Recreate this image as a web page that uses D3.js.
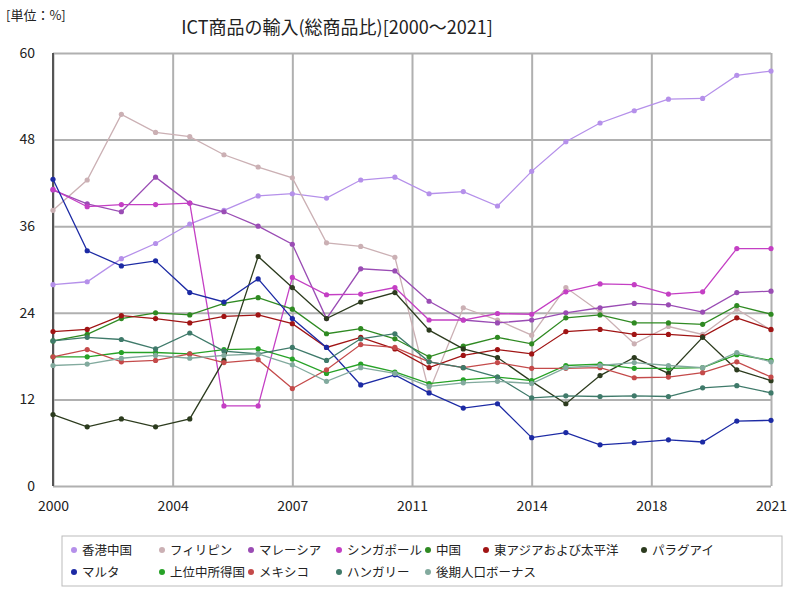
<!DOCTYPE html>
<html><head><meta charset="utf-8">
<script src="https://cdn.jsdelivr.net/npm/d3@7"></script>
<style>body{margin:0;background:#fff}text{font-family:"Noto Sans CJK JP",sans-serif}</style>
</head><body><svg id="c" width="800" height="600"></svg>
<script>
const years = d3.range(2000, 2022);
const tickPos = [0, 3.5, 7, 10.5, 14, 17.5, 21];
const tickLabels = ["2000","2004","2007","2011","2014","2018","2021"];
const yTicks = [0,12,24,36,48,60];
const names = ["香港中国","フィリピン","マレーシア","シンガポール","中国","東アジアおよび太平洋","パラグアイ","マルタ","上位中所得国","メキシコ","ハンガリー","後期人口ボーナス"];
const colors = ["#b590ea","#cbb0b4","#9a4cb4","#c43fc4","#2f8a22","#a01414","#2c3b1e","#1c2aa4","#27a227","#c44a4a","#3f7a6a","#82aa9e"];
const hk = [27.9,28.3,31.5,33.6,36.3,38.2,40.2,40.5,39.9,42.4,42.8,40.5,40.8,38.8,43.6,47.7,50.3,52.0,53.6,53.7,56.9,57.5];
const ph = [38.2,42.4,51.5,49.0,48.4,45.9,44.2,42.7,33.7,33.2,31.7,13.1,24.7,23.0,20.9,27.5,24.1,19.7,22.1,21.0,24.5,21.6];
const my = [41.0,39.1,38.0,42.8,39.2,38.0,36.0,33.5,23.2,30.1,29.8,25.6,23.0,22.6,23.0,24.0,24.7,25.3,25.1,24.1,26.8,27.0];
const sg = [41.1,38.7,39.0,39.0,39.2,11.1,11.1,28.9,26.5,26.6,27.5,23.0,23.0,23.9,23.8,26.9,28.0,27.9,26.6,26.9,32.9,32.9];
const cn = [20.1,21.0,23.2,24.0,23.7,25.3,26.1,24.5,21.1,21.8,20.4,17.9,19.4,20.6,19.7,23.3,23.7,22.6,22.6,22.4,25.0,23.8];
const eap = [21.4,21.7,23.6,23.2,22.6,23.5,23.7,22.5,19.2,20.6,19.0,16.4,18.1,18.9,18.3,21.4,21.7,21.0,21.0,20.7,23.3,21.7];
const py = [9.9,8.2,9.3,8.2,9.3,17.4,31.8,27.5,23.2,25.5,26.8,21.6,19.0,17.8,14.5,11.4,15.3,17.8,15.6,20.6,16.1,14.6];
const mt = [42.5,32.6,30.5,31.2,26.8,25.5,28.7,23.2,19.2,14.0,15.4,12.9,10.8,11.4,6.7,7.4,5.7,6.0,6.4,6.1,9.0,9.1];
const umi = [17.9,17.9,18.5,18.5,18.3,18.9,19.0,17.6,15.6,16.9,15.8,14.2,14.7,15.1,14.6,16.7,16.9,16.3,16.3,16.4,18.2,17.4];
const mx = [17.9,18.9,17.2,17.4,18.3,17.1,17.5,13.5,16.1,19.6,19.2,17.2,16.4,17.1,16.3,16.3,16.4,15.0,15.1,15.7,17.2,15.1];
const hu = [20.1,20.6,20.3,19.0,21.2,18.7,18.3,19.2,17.4,20.4,21.1,17.2,16.4,15.1,12.2,12.5,12.4,12.5,12.4,13.6,13.9,12.9];
const ld = [16.7,16.9,17.7,18.1,17.7,18.1,18.3,16.8,14.5,16.4,15.6,13.8,14.3,14.5,14.2,16.4,16.7,17.1,16.7,16.4,18.5,17.2];
const series = [hk,ph,my,sg,cn,eap,py,mt,umi,mx,hu,ld];

const svg = d3.select("#c");
const x = d3.scaleLinear().domain([0,21]).range([53,771]);
const y = d3.scaleLinear().domain([0,60]).range([486,53]);

svg.append("g").attr("transform","translate(0,486)")
  .call(d3.axisBottom(x).tickValues(tickPos).tickFormat((d,i)=>tickLabels[i]).tickSize(-433))
  .call(g=>{g.select(".domain").remove();g.selectAll("line").attr("stroke","#b0b0b0").attr("stroke-width",2);
    g.selectAll("text").attr("font-size",14).attr("fill","#222").attr("y",12).attr("dy","0.9em");});
svg.append("g").attr("transform","translate(53,0)")
  .call(d3.axisLeft(y).tickValues(yTicks).tickSize(-718))
  .call(g=>{g.select(".domain").remove();g.selectAll("line").attr("stroke","#b0b0b0").attr("stroke-width",2);
    g.selectAll("text").attr("font-size",14).attr("fill","#222").attr("x",-18).attr("dy","0.3em");});
svg.append("line").attr("x1",53).attr("x2",53).attr("y1",53).attr("y2",486).attr("stroke","#555").attr("stroke-width",2);

const line = d3.line().x((d,i)=>x(i)).y(d=>y(d));
series.forEach((s,k)=>{
  const g = svg.append("g");
  g.append("path").attr("d",line(s)).attr("fill","none").attr("stroke",colors[k]).attr("stroke-width",1.3);
  g.selectAll("circle").data(s).join("circle").attr("cx",(d,i)=>x(i)).attr("cy",d=>y(d)).attr("r",2.6).attr("fill",colors[k]);
});

svg.append("text").attr("x",337).attr("y",34).attr("text-anchor","middle").attr("font-size",18).attr("fill","#222").text("ICT商品の輸入(総商品比)[2000～2021]");
svg.append("text").attr("x",6).attr("y",20).attr("font-size",13).attr("fill","#222").text("[単位：%]");

svg.append("rect").attr("x",62).attr("y",536).attr("width",720).attr("height",50).attr("fill","#fff").attr("stroke","#bbb");
const lx = [70,158,247,335,424,482,640,70,158,247,335,424];
names.forEach((n,k)=>{
  const row = k<7?0:1, yy = 550+row*22;
  svg.append("circle").attr("cx",lx[k]+4).attr("cy",yy).attr("r",3).attr("fill",colors[k]);
  svg.append("text").attr("x",lx[k]+12).attr("y",yy+4.5).attr("font-size",12.5).attr("fill","#222").text(n);
});
</script></body></html>
